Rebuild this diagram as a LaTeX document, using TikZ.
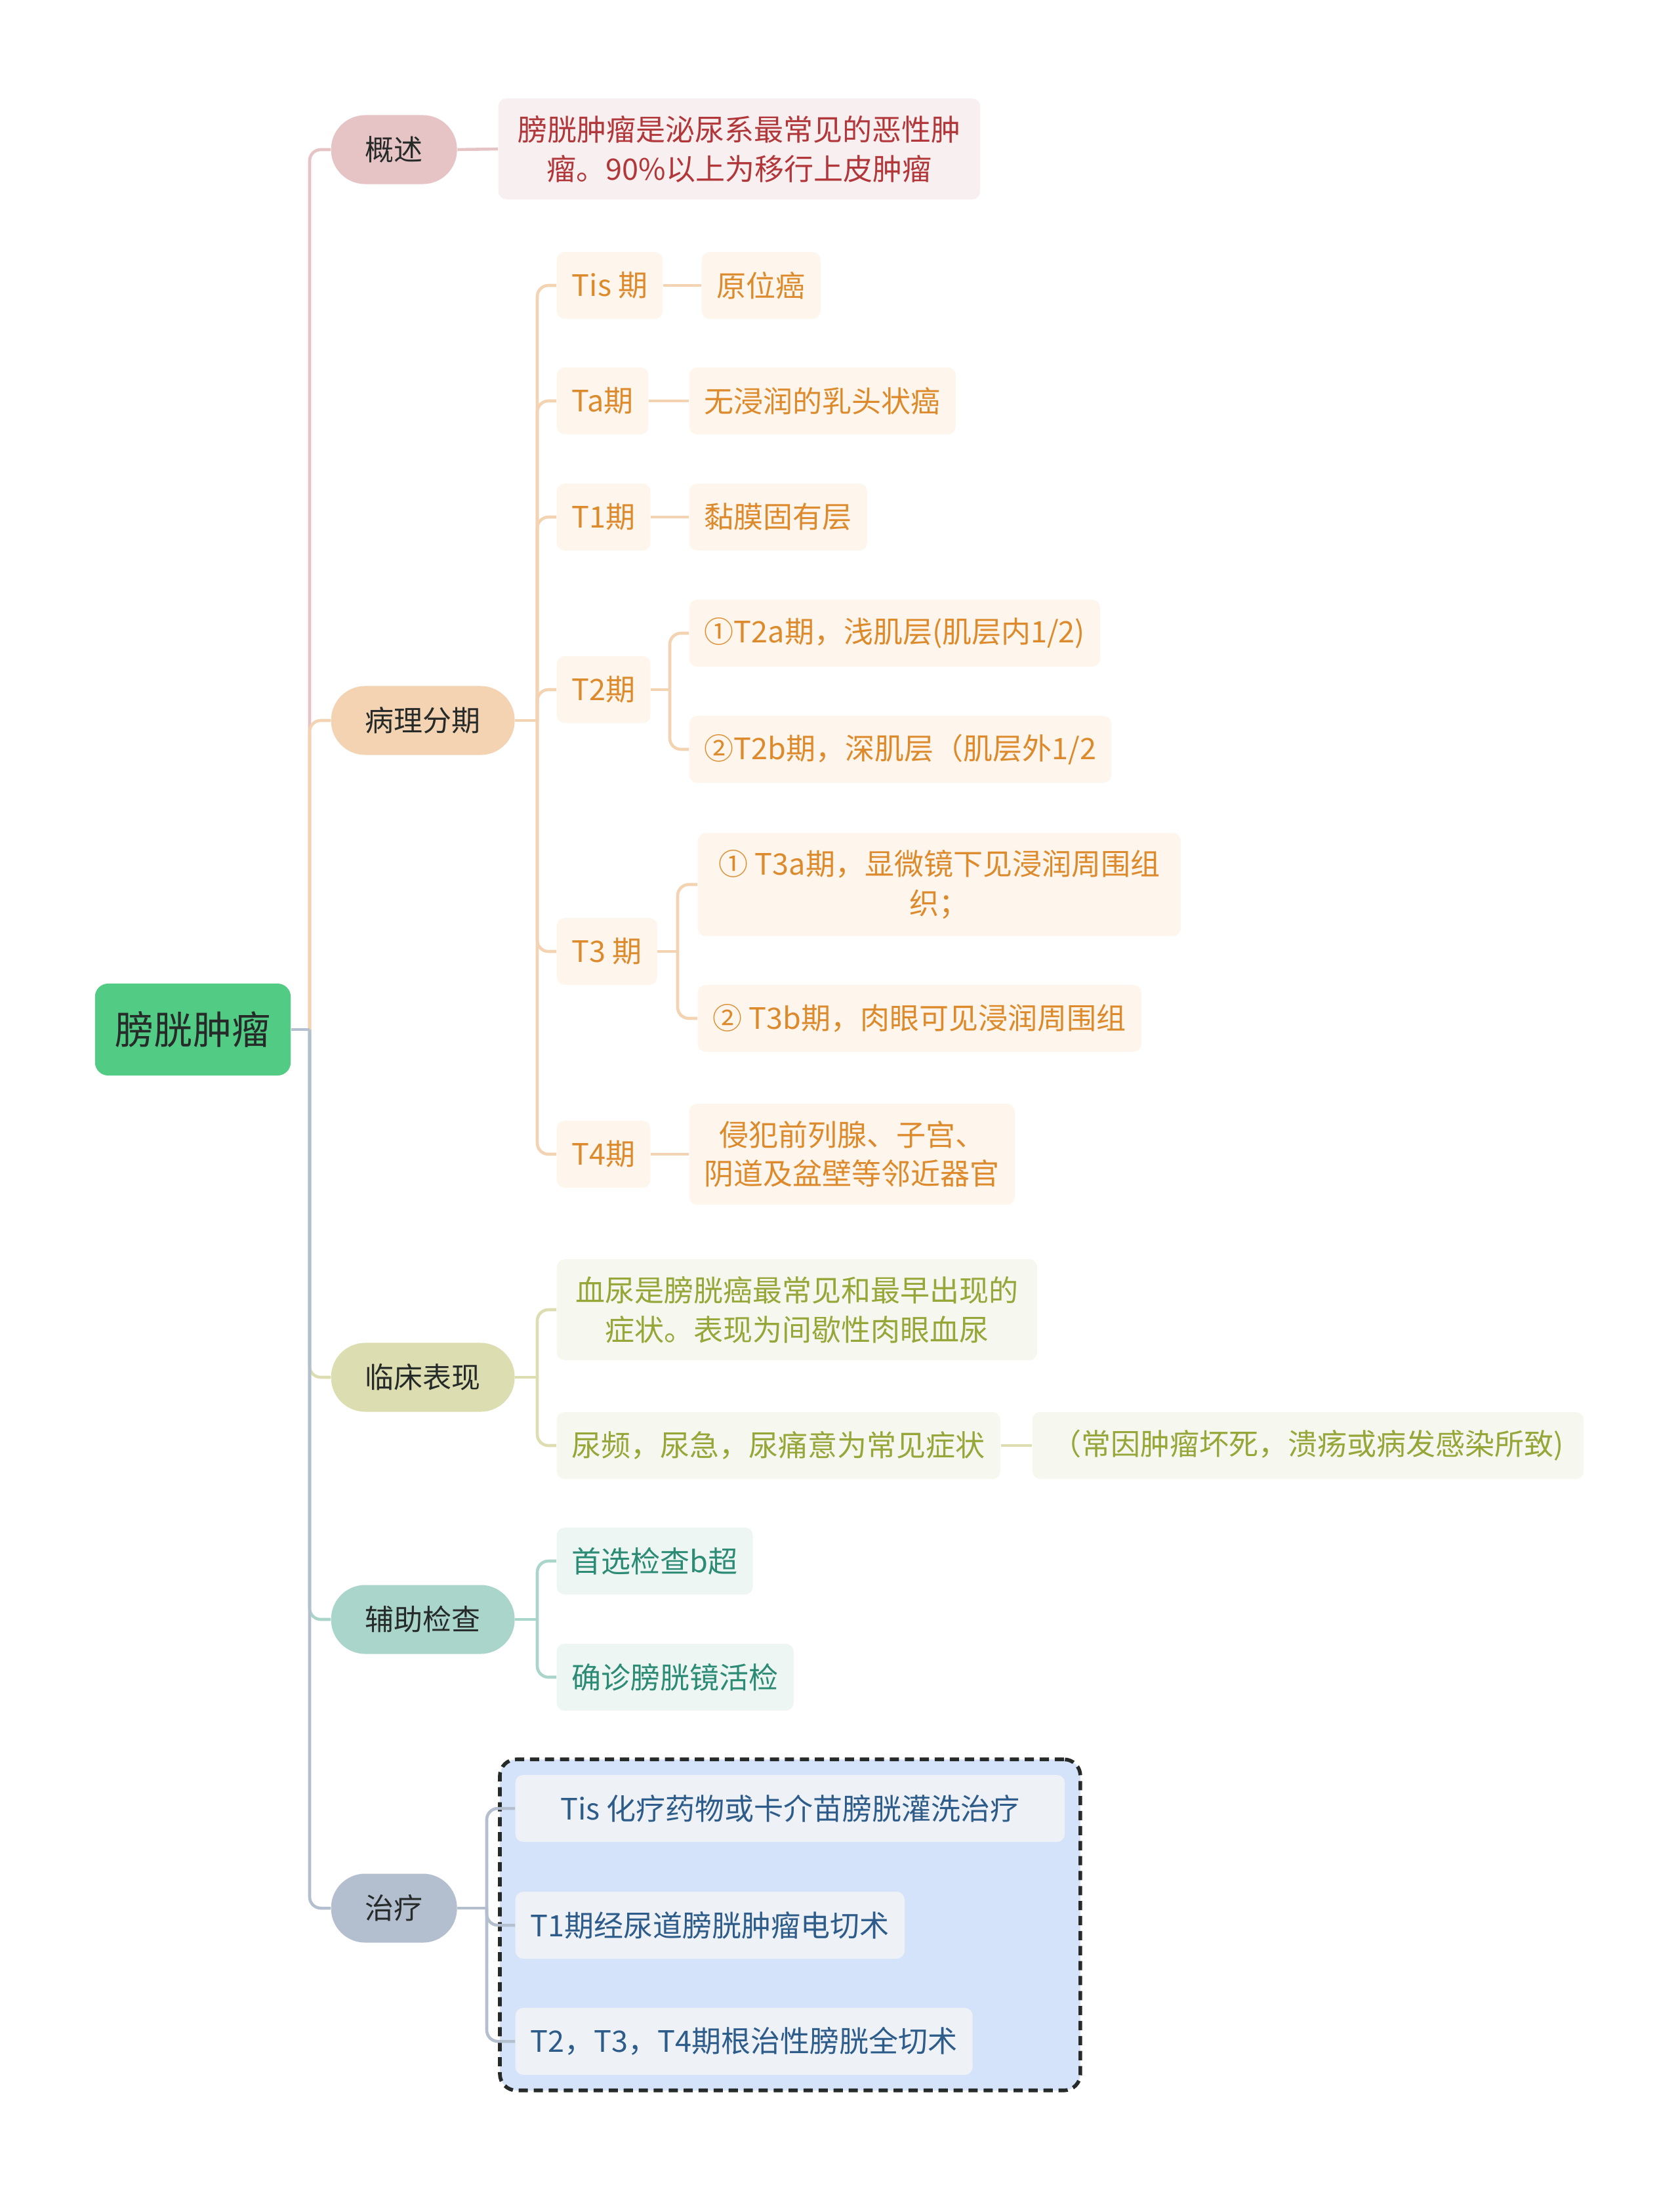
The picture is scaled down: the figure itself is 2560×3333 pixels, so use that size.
\documentclass[tikz,border=0pt]{standalone}
\usepackage{fontspec}
\setmainfont{Noto Sans CJK SC}
\usepackage{xcolor}
\usetikzlibrary{positioning,fit,backgrounds}

\definecolor{rootgreen}{HTML}{52CC84}
\definecolor{inkdark}{HTML}{262B2A}
\definecolor{gsPill}{HTML}{E6C3C4}
\definecolor{gsBox}{HTML}{F8F0F0}
\definecolor{gsText}{HTML}{B2373A}
\definecolor{blPill}{HTML}{F3D3B2}
\definecolor{blBox}{HTML}{FEF6EC}
\definecolor{blText}{HTML}{DD8A2C}
\definecolor{lcPill}{HTML}{DCDEB1}
\definecolor{lcBox}{HTML}{F6F7EF}
\definecolor{lcText}{HTML}{96A638}
\definecolor{fzPill}{HTML}{A9D5CA}
\definecolor{fzBox}{HTML}{EDF6F3}
\definecolor{fzText}{HTML}{2B8B74}
\definecolor{zlPill}{HTML}{B3BFCF}
\definecolor{zlBox}{HTML}{EEF2F6}
\definecolor{zlText}{HTML}{2E5C8A}
\definecolor{zlGroup}{HTML}{D5E3FA}

\tikzset{
  leaf/.style={rounded corners=1.2mm, font=\fontsize{12.8}{17}\selectfont,
    minimum height=10.2mm, inner xsep=2.3mm, inner ysep=2.6mm, align=center, anchor=west},
  gsleaf/.style={leaf, fill=gsBox, text=gsText},
  blleaf/.style={leaf, fill=blBox, text=blText},
  lcleaf/.style={leaf, fill=lcBox, text=lcText},
  fzleaf/.style={leaf, fill=fzBox, text=fzText},
  zlleaf/.style={leaf, fill=zlBox, text=zlText}
}

\begin{document}
\begin{tikzpicture}[
    x=0.01cm, y=-0.01cm,
    rootbox/.style={fill=rootgreen, rounded corners=2mm, text=inkdark,
      font=\fontsize{16.8}{20}\selectfont, minimum height=14mm, inner xsep=3.1mm},
    topic/.style={fill=#1, rounded corners=5.2mm, text=inkdark,
      font=\fontsize{12.5}{15}\selectfont, minimum height=10.5mm, inner xsep=5.2mm, anchor=west},
    grp/.style={draw=inkdark, line width=1.6pt, dash pattern=on 4pt off 2.5pt,
      fill=zlGroup, rounded corners=2.5mm, inner sep=2.3mm},
    lnk/.style={draw=#1, line width=1.3pt},
    bend/.style={lnk=#1, rounded corners=1.7mm}
  ]
    \useasboundingbox (0,0) rectangle (2560,3333);

    % Root
    \node[rootbox] (root) at (294,1569) {膀胱肿瘤};

    % Main topics
    \node[topic=gsPill] (gs) at (504,228)  {概述};
    \node[topic=blPill] (bl) at (504,1098) {病理分期};
    \node[topic=lcPill] (lc) at (504,2099) {临床表现};
    \node[topic=fzPill] (fz) at (504,2468) {辅助检查};
    \node[topic=zlPill] (zl) at (504,2908) {治疗};

    % 概述
    \node[gsleaf, minimum width=7.34cm] (gs1) at (759,227) {膀胱肿瘤是泌尿系最常见的恶性肿\\瘤。90\%以上为移行上皮肿瘤};

    % 病理分期
    \node[blleaf] (tis)  at (848,435)  {Tis 期};
    \node[blleaf] (tis1) at (1069,435) {原位癌};
    \node[blleaf] (ta)   at (848,611)  {Ta期};
    \node[blleaf] (ta1)  at (1050,611) {无浸润的乳头状癌};
    \node[blleaf] (t1)   at (848,788)  {T1期};
    \node[blleaf] (t11)  at (1050,788) {黏膜固有层};
    \node[blleaf] (t2)   at (848,1051) {T2期};
    \node[blleaf] (t2a)  at (1050,965) {①T2a期，浅肌层(肌层内1/2)};
    \node[blleaf] (t2b)  at (1050,1142) {②T2b期，深肌层（肌层外1/2};
    \node[blleaf] (t3)   at (848,1450) {T3 期};
    \node[blleaf, minimum width=7.36cm] (t3a) at (1063,1348) {① T3a期，显微镜下见浸润周围组\\织；};
    \node[blleaf, minimum width=6.7cm]  (t3b) at (1063,1552) {② T3b期，肉眼可见浸润周围组};
    \node[blleaf] (t4)   at (848,1759) {T4期};
    \node[blleaf] (t41)  at (1050,1759) {侵犯前列腺、子宫、\\阴道及盆壁等邻近器官};

    % 临床表现
    \node[lcleaf, minimum width=7.32cm] (lc1) at (848,1996)  {血尿是膀胱癌最常见和最早出现的\\症状。表现为间歇性肉眼血尿};
    \node[lcleaf] (lc2) at (848,2203)  {尿频，尿急，尿痛意为常见症状};
    \node[lcleaf, minimum width=8.4cm] (lc3) at (1573,2203) {（常因肿瘤坏死，溃疡或病发感染所致)};

    % 辅助检查
    \node[fzleaf] (fz1) at (848,2379) {首选检查b超};
    \node[fzleaf] (fz2) at (848,2556) {确诊膀胱镜活检};

    % 治疗
    \node[zlleaf, minimum width=8.37cm] (zl1) at (785,2756) {Tis 化疗药物或卡介苗膀胱灌洗治疗};
    \node[zlleaf] (zl2) at (785,2934) {T1期经尿道膀胱肿瘤电切术};
    \node[zlleaf] (zl3) at (785,3111) {T2，T3，T4期根治性膀胱全切术};
    \begin{scope}[on background layer]
      \node[grp, fit=(zl1)(zl2)(zl3)] (zlgrp) {};
    \end{scope}

    % Junctions
    \coordinate (rootj) at (472,1569);
    \coordinate (blj)   at (819,1098);
    \coordinate (t2j)   at (1021,1051);
    \coordinate (t3j)   at (1033,1450);
    \coordinate (lcj)   at (819,2099);
    \coordinate (fzj)   at (819,2468);
    \coordinate (zlj)   at (742,2908);

    % Root -> topics
    \draw[bend=gsPill] (rootj) |- (gs.west);
    \draw[bend=blPill] (rootj) |- (bl.west);
    \draw[bend=lcPill] (rootj) |- (lc.west);
    \draw[bend=fzPill] (rootj) |- (fz.west);
    \draw[bend=zlPill] (rootj) |- (zl.west);
    \draw[lnk=zlPill] (root.east) -- (rootj);

    % 概述
    \draw[lnk=gsPill] (gs.east) -- (gs1.west);

    % 病理分期
    \draw[lnk=blPill] (bl.east) -- (blj);
    \foreach \n in {tis,ta,t1,t2,t3,t4}
      \draw[bend=blPill] (blj) |- (\n.west);
    \draw[lnk=blPill] (tis.east) -- (tis1.west);
    \draw[lnk=blPill] (ta.east) -- (ta1.west);
    \draw[lnk=blPill] (t1.east) -- (t11.west);
    \draw[lnk=blPill] (t2.east) -- (t2j);
    \foreach \n in {t2a,t2b}
      \draw[bend=blPill] (t2j) |- (\n.west);
    \draw[lnk=blPill] (t3.east) -- (t3j);
    \foreach \n in {t3a,t3b}
      \draw[bend=blPill] (t3j) |- (\n.west);
    \draw[lnk=blPill] (t4.east) -- (t41.west);

    % 临床表现
    \draw[lnk=lcPill] (lc.east) -- (lcj);
    \foreach \n in {lc1,lc2}
      \draw[bend=lcPill] (lcj) |- (\n.west);
    \draw[lnk=lcPill] (lc2.east) -- (lc3.west);

    % 辅助检查
    \draw[lnk=fzPill] (fz.east) -- (fzj);
    \foreach \n in {fz1,fz2}
      \draw[bend=fzPill] (fzj) |- (\n.west);

    % 治疗
    \draw[lnk=zlPill] (zl.east) -- (zlj);
    \foreach \n in {zl1,zl2,zl3}
      \draw[bend=zlPill] (zlj) |- (\n.west);
\end{tikzpicture}
\end{document}
